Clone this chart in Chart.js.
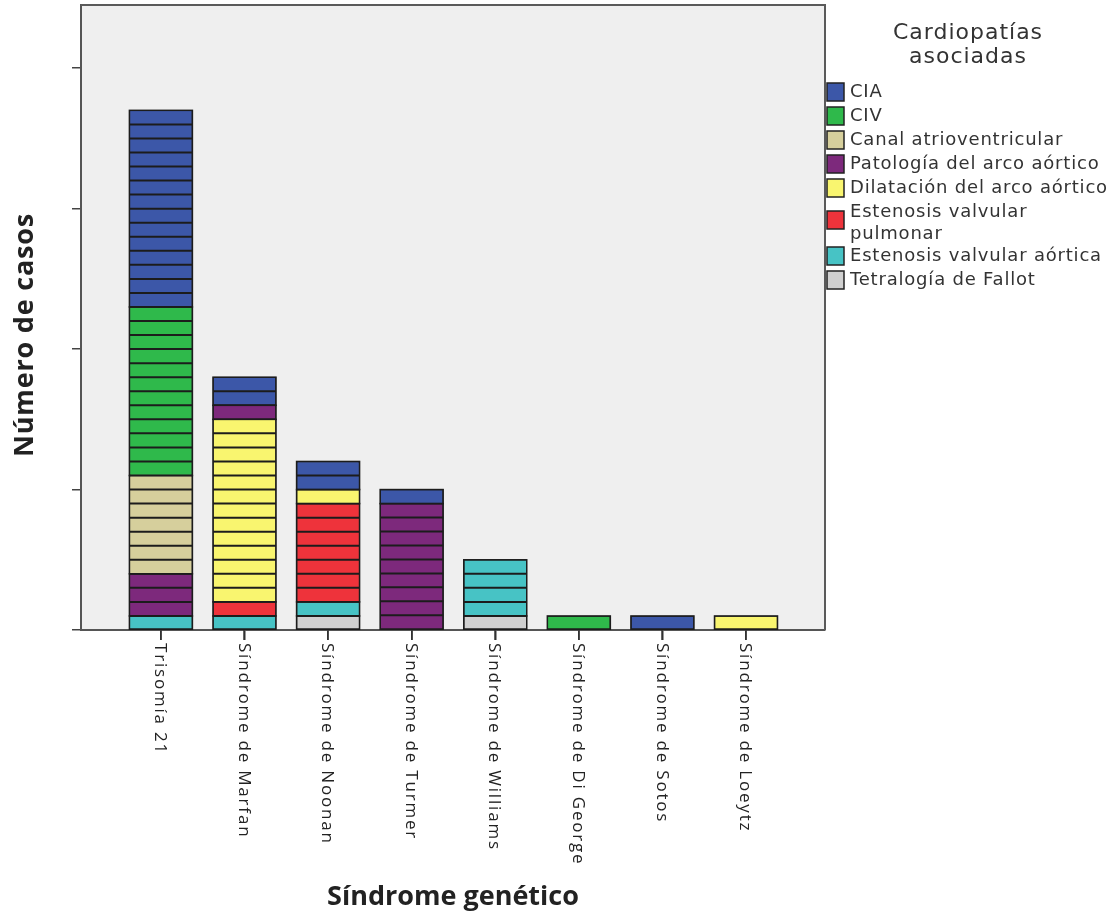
<!DOCTYPE html>
<html>
<head>
<meta charset="utf-8">
<script src="https://cdn.jsdelivr.net/npm/chart.js@4.4.0/dist/chart.umd.min.js"></script>
<style>
  html, body { margin: 0; padding: 0; background: #fff; }
</style>
</head>
<body>
<canvas id="grafico" width="1114" height="921"></canvas>
<script>
// Categorias del eje X
const sindromes = ['Trisomía 21', 'Síndrome de Marfan', 'Síndrome de Noonan', 'Síndrome de Turmer',
    'Síndrome de Williams', 'Síndrome de Di George', 'Síndrome de Sotos', 'Síndrome de Loeytz'];

// Numero de casos por cardiopatia (un valor por sindrome)
const cia          = [14, 2, 2, 1, 0, 0, 1, 0];
const civ          = [12, 0, 0, 0, 0, 1, 0, 0];
const canalAV      = [7, 0, 0, 0, 0, 0, 0, 0];
const patArco      = [3, 1, 0, 9, 0, 0, 0, 0];
const dilatArco    = [0, 13, 1, 0, 0, 0, 0, 1];
const estPulmonar  = [0, 1, 7, 0, 0, 0, 0, 0];
const estAortica   = [1, 1, 1, 0, 4, 0, 0, 0];
const tetralogia   = [0, 0, 1, 0, 1, 0, 0, 0];

// Ticks del eje Y (sin etiquetas en el original)
const yTicks = [0, 10, 20, 30, 40];

// Series de abajo hacia arriba en la pila
const series = [
    { label: 'Tetralogía de Fallot', data: tetralogia, color: '#d0d0d0' },
    { label: 'Estenosis valvular aórtica', data: estAortica, color: '#47c3c5' },
    { label: 'Estenosis valvular\npulmonar', data: estPulmonar, color: '#ee333b' },
    { label: 'Dilatación del arco aórtico', data: dilatArco, color: '#f9f56f' },
    { label: 'Patología del arco aórtico', data: patArco, color: '#7d297c' },
    { label: 'Canal atrioventricular', data: canalAV, color: '#d6cf9c' },
    { label: 'CIV', data: civ, color: '#2fb94b' },
    { label: 'CIA', data: cia, color: '#3c57a8' }
];

const datasets = series.map(s => ({
    label: s.label,
    data: s.data.map((v, i) => ({ x: i, y: v })),
    backgroundColor: s.color,
    borderColor: '#1c1c1c',
    borderWidth: 1,
    borderSkipped: false,
    barThickness: 63
}));

// fondo gris del area de trazado y marco
const fondoPlugin = {
    id: 'fondo',
    beforeDraw(chart) {
        const { ctx, chartArea: a } = chart;
        ctx.save();
        ctx.fillStyle = '#ffffff';
        ctx.fillRect(0, 0, chart.width, chart.height);
        ctx.fillStyle = '#efefef';
        ctx.fillRect(a.left, a.top, a.right - a.left, a.bottom - a.top);
        ctx.restore();
    },
    beforeDatasetsDraw(chart) {
        const { ctx, chartArea: a } = chart;
        ctx.save();
        ctx.strokeStyle = '#5a5a5a';
        ctx.lineWidth = 2;
        ctx.beginPath();
        ctx.moveTo(a.left, a.top);
        ctx.lineTo(a.right, a.top);
        ctx.lineTo(a.right, a.bottom);
        ctx.stroke();
        ctx.restore();
    }
};

// lineas entre cada caso dentro de la barra
const casosPlugin = {
    id: 'casos',
    afterDatasetsDraw(chart) {
        const ctx = chart.ctx;
        ctx.save();
        ctx.strokeStyle = '#1c1c1c';
        chart.data.datasets.forEach((ds, di) => {
            const meta = chart.getDatasetMeta(di);
            meta.data.forEach((bar, i) => {
                const v = ds.data[i].y;
                if (!v) return;
                const p = bar.getProps(['x', 'y', 'base', 'width'], true);
                const unit = (p.base - p.y) / v;
                ctx.lineWidth = 2;
                for (let k = 1; k < v; k++) {
                    const yy = p.y + k * unit;
                    ctx.beginPath();
                    ctx.moveTo(p.x - p.width / 2, yy);
                    ctx.lineTo(p.x + p.width / 2, yy);
                    ctx.stroke();
                }
                ctx.lineWidth = 1.5;
                ctx.strokeRect(p.x - p.width / 2, p.y, p.width, p.base - p.y);
            });
        });
        ctx.restore();
    }
};

// marcas y etiquetas del eje X giradas (leen de arriba a abajo) y titulo del eje Y
const etiquetasPlugin = {
    id: 'etiquetas',
    afterDraw(chart) {
        const { ctx, chartArea: a } = chart;
        const xs = chart.scales.x;
        ctx.save();
        ctx.strokeStyle = '#333';
        ctx.lineWidth = 1.5;
        sindromes.forEach((s, i) => {
            const px = Math.round(xs.getPixelForValue(i));
            ctx.beginPath();
            ctx.moveTo(px, a.bottom);
            ctx.lineTo(px, a.bottom + 10);
            ctx.stroke();
        });

        ctx.font = '17px "Open Sans"';
        ctx.letterSpacing = '1.8px';
        ctx.fillStyle = '#222';
        ctx.textAlign = 'left';
        ctx.textBaseline = 'middle';
        sindromes.forEach((s, i) => {
            ctx.save();
            ctx.translate(xs.getPixelForValue(i) - 1, a.bottom + 13);
            ctx.rotate(Math.PI / 2);
            ctx.fillText(s, 0, 0);
            ctx.restore();
        });

        ctx.font = 'bold 27px "Open Sans"';
        ctx.letterSpacing = '0.8px';
        ctx.textAlign = 'center';
        ctx.translate(25, 335);
        ctx.rotate(-Math.PI / 2);
        ctx.fillText('Número de casos', 0, 0);
        ctx.restore();
    }
};

// leyenda a la derecha
const leyendaPlugin = {
    id: 'leyenda',
    afterDraw(chart) {
        const { ctx, chartArea: a } = chart;
        const cx = a.right + 143;
        ctx.save();
        ctx.fillStyle = '#333';
        ctx.textBaseline = 'middle';
        ctx.textAlign = 'center';
        ctx.font = '22px "DejaVu Sans"';
        ctx.letterSpacing = '1px';
        ctx.fillText('Cardiopatías', cx, 33);
        ctx.fillText('asociadas', cx, 57);

        ctx.font = '18px "DejaVu Sans"';
        ctx.letterSpacing = '0.8px';
        ctx.textAlign = 'left';
        let y = 80;
        chart.data.datasets.slice().reverse().forEach(ds => {
            const lines = ds.label.split('\n');
            const boxTop = y + 3 + (lines.length - 1) * 8;
            ctx.fillStyle = ds.backgroundColor;
            ctx.fillRect(a.right + 2, boxTop, 17, 18);
            ctx.strokeStyle = '#222';
            ctx.lineWidth = 1.5;
            ctx.strokeRect(a.right + 2, boxTop, 17, 18);
            ctx.fillStyle = '#333';
            lines.forEach((t, li) => ctx.fillText(t, a.right + 25, y + 12 + li * 22));
            y += 24 + (lines.length - 1) * 20;
        });
        ctx.restore();
    }
};

const ctx = document.getElementById('grafico').getContext('2d');
const grafico = new Chart(ctx, {
    type: 'bar',
    data: { datasets: datasets },
    options: {
        responsive: false,
        animation: false,
        devicePixelRatio: 1,
        layout: { padding: { top: 5, right: 289, left: 0, bottom: 0 } },
        plugins: {
            legend: { display: false },
            tooltip: { enabled: false }
        },
        scales: {
            x: {
                type: 'linear',
                stacked: true,
                offset: false,
                min: -0.956,
                max: 7.945,
                afterBuildTicks: s => { s.ticks = sindromes.map((_, i) => ({ value: i })); },
                afterFit: s => { s.height = 291; },
                ticks: { display: false },
                grid: { offset: false, drawOnChartArea: false, drawTicks: true, tickLength: 10, color: '#333', lineWidth: 1.5 },
                border: { color: '#555', width: 2 },
                title: {
                    display: true,
                    text: 'Síndrome genético',
                    color: '#222',
                    font: { family: 'Open Sans', size: 27, weight: 'bold' },
                    padding: { top: 0, bottom: 7 }
                }
            },
            y: {
                stacked: true,
                min: 0,
                max: 44.5,
                afterBuildTicks: s => { s.ticks = yTicks.map(v => ({ value: v })); },
                afterFit: s => { s.width = 81; },
                ticks: { display: false },
                grid: { drawOnChartArea: false, drawTicks: true, tickLength: 9, color: '#444', lineWidth: 1.5 },
                border: { color: '#555', width: 2 }
            }
        }
    },
    plugins: [fondoPlugin, casosPlugin, etiquetasPlugin, leyendaPlugin]
});
</script>
</body>
</html>
